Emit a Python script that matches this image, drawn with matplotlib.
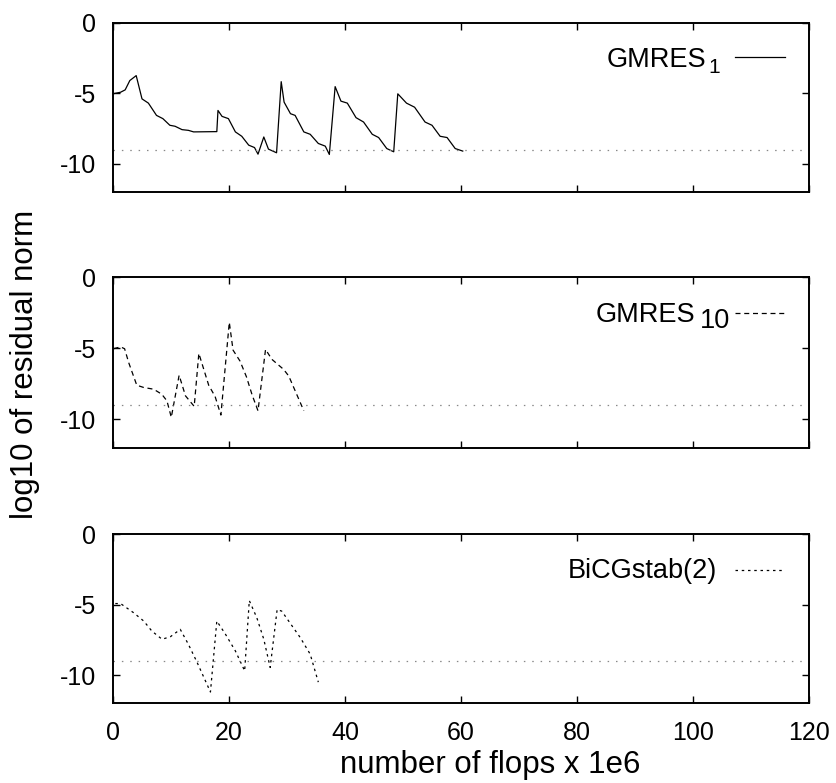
import matplotlib
matplotlib.use("Agg")
import matplotlib.pyplot as plt

plt.rcParams['font.family'] = ['Liberation Sans', 'DejaVu Sans']

# ---- data ----
gmres1_x = [0.0, 1.3, 2.1, 2.9, 4.0, 5.0, 6.1, 7.5, 8.6, 9.8, 10.7, 11.9, 13.0, 13.9,
            17.9, 18.1, 18.8, 19.9, 21.1, 22.2, 23.4, 24.4, 25.0, 26.0, 26.8, 28.2,
            29.0, 29.5, 30.6, 31.4, 32.9, 34.0, 35.4, 36.6, 37.3,
            38.3, 39.3, 40.4, 41.9, 43.2, 44.7, 45.8, 47.2, 48.4,
            49.1, 50.6, 52.0, 53.8, 55.0, 56.4, 57.6, 59.0, 60.3]
gmres1_y = [-5.04, -4.93, -4.76, -4.1, -3.75, -5.4, -5.7, -6.57, -6.8, -7.27, -7.34, -7.58, -7.63, -7.74,
            -7.72, -6.22, -6.64, -6.8, -7.74, -8.05, -8.68, -8.85, -9.32, -8.1, -8.96, -9.22,
            -4.18, -5.63, -6.45, -6.57, -7.74, -7.91, -8.56, -8.75, -9.34,
            -4.53, -5.56, -5.7, -6.73, -7.04, -7.91, -8.14, -8.92, -9.15,
            -5.04, -5.7, -5.99, -7.04, -7.27, -8.05, -8.14, -8.92, -9.1]

gmres10_x = [0.1, 1.3, 2.0, 2.7, 4.1, 5.3, 7.0, 8.4, 9.3, 10.05, 11.4, 12.5, 14.0, 14.8,
             16.5, 17.6, 18.6, 20.05, 20.7, 21.9, 23.0, 24.0, 25.0, 26.3, 27.4, 29.4, 30.3, 32.9]
gmres10_y = [-5.03, -4.9, -5.03, -6.0, -7.6, -7.76, -7.88, -8.23, -8.7, -9.86, -6.9, -8.35, -9.09, -5.36,
             -7.6, -8.39, -9.7, -3.17, -5.13, -5.9, -7.0, -8.3, -9.4, -5.08, -5.78, -6.48, -6.95, -9.4]

bicg_x = [0.4, 1.3, 3.55, 5.3, 6.7, 8.45, 9.9, 11.6, 13.0, 14.5, 16.8, 17.9, 19.4, 21.1, 22.7,
          23.5, 24.8, 26.0, 27.1, 28.3, 29.1, 30.9, 32.3, 34.0, 35.4]
bicg_y = [-4.93, -4.93, -5.58, -6.17, -6.88, -7.46, -7.28, -6.76, -7.82, -9.1, -11.2, -6.17, -7.11, -8.29, -9.7,
          -4.72, -5.94, -7.46, -9.46, -5.35, -5.47, -6.53, -7.35, -8.52, -10.5]

tolerance = -9
x_ticks = [0, 20, 40, 60, 80, 100, 120]
y_ticks = [-10, -5, 0]

# ---- figure ----
fig = plt.figure(figsize=(8.36, 7.83), dpi=100)
L, R = 113 / 836, 809 / 836
W = R - L
panels_px = [(22.7, 192.0), (277.3, 447.7), (534.0, 703.3)]
H = 783.0

series = [
    dict(x=gmres1_x, y=gmres1_y, ls='-', main='GMRES', sub='1', subsize=15,
         main_r=0.852, main_b=0.740, sub_r=0.872, sub_b=0.701, line_y=0.797),
    dict(x=gmres10_x, y=gmres10_y, ls=(0, (4, 3)), main='GMRES', sub='10', subsize=19.5,
         main_r=0.836, main_b=0.739, sub_r=0.886, sub_b=0.701, line_y=0.790),
    dict(x=bicg_x, y=bicg_y, ls=(0, (2, 3)), main='BiCGstab(2)', sub=None, subsize=None,
         main_r=0.868, main_b=0.740, sub_r=None, sub_b=None, line_y=0.787),
]

for i, ((top, bot), s) in enumerate(zip(panels_px, series)):
    ax = fig.add_axes([L, 1 - bot / H, W, (bot - top) / H])
    ax.plot(s['x'], s['y'], color='black', lw=0.9, ls=s['ls'])
    ax.plot([0, 120], [tolerance, tolerance], color='#888888', lw=0.9,
            ls=(0, (1.2, 5.5)))
    ax.set_xlim(0, 120)
    ax.set_ylim(-12, 0)
    ax.set_xticks(x_ticks)
    ax.set_yticks(y_ticks)
    ax.set_yticklabels([str(v) for v in y_ticks])
    ax.tick_params(direction='in', length=5, width=1.0, top=True, right=True,
                   labelsize=18, pad=12)
    ax.tick_params(axis='x', pad=13)
    if i < 2:
        ax.tick_params(labelbottom=False)
    for sp in ax.spines.values():
        sp.set_linewidth(1.4)
    # key
    ax.plot([0.894, 0.966], [s['line_y'], s['line_y']], transform=ax.transAxes,
            color='black', lw=0.9, ls=s['ls'], clip_on=False)
    ax.text(s['main_r'], s['main_b'], s['main'], transform=ax.transAxes,
            ha='right', va='baseline', fontsize=19.5)
    if s['sub']:
        ax.text(s['sub_r'], s['sub_b'], s['sub'], transform=ax.transAxes,
                ha='right', va='baseline', fontsize=s['subsize'])

fig.text(0.030, 0.534, 'log10 of residual norm', rotation=90, ha='center',
         va='center', fontsize=22.5)
fig.text(340 / 836, 0.023, 'number of flops x 1e6', ha='left', va='center',
         fontsize=22.5)

fig.savefig('out.png', dpi=100)
